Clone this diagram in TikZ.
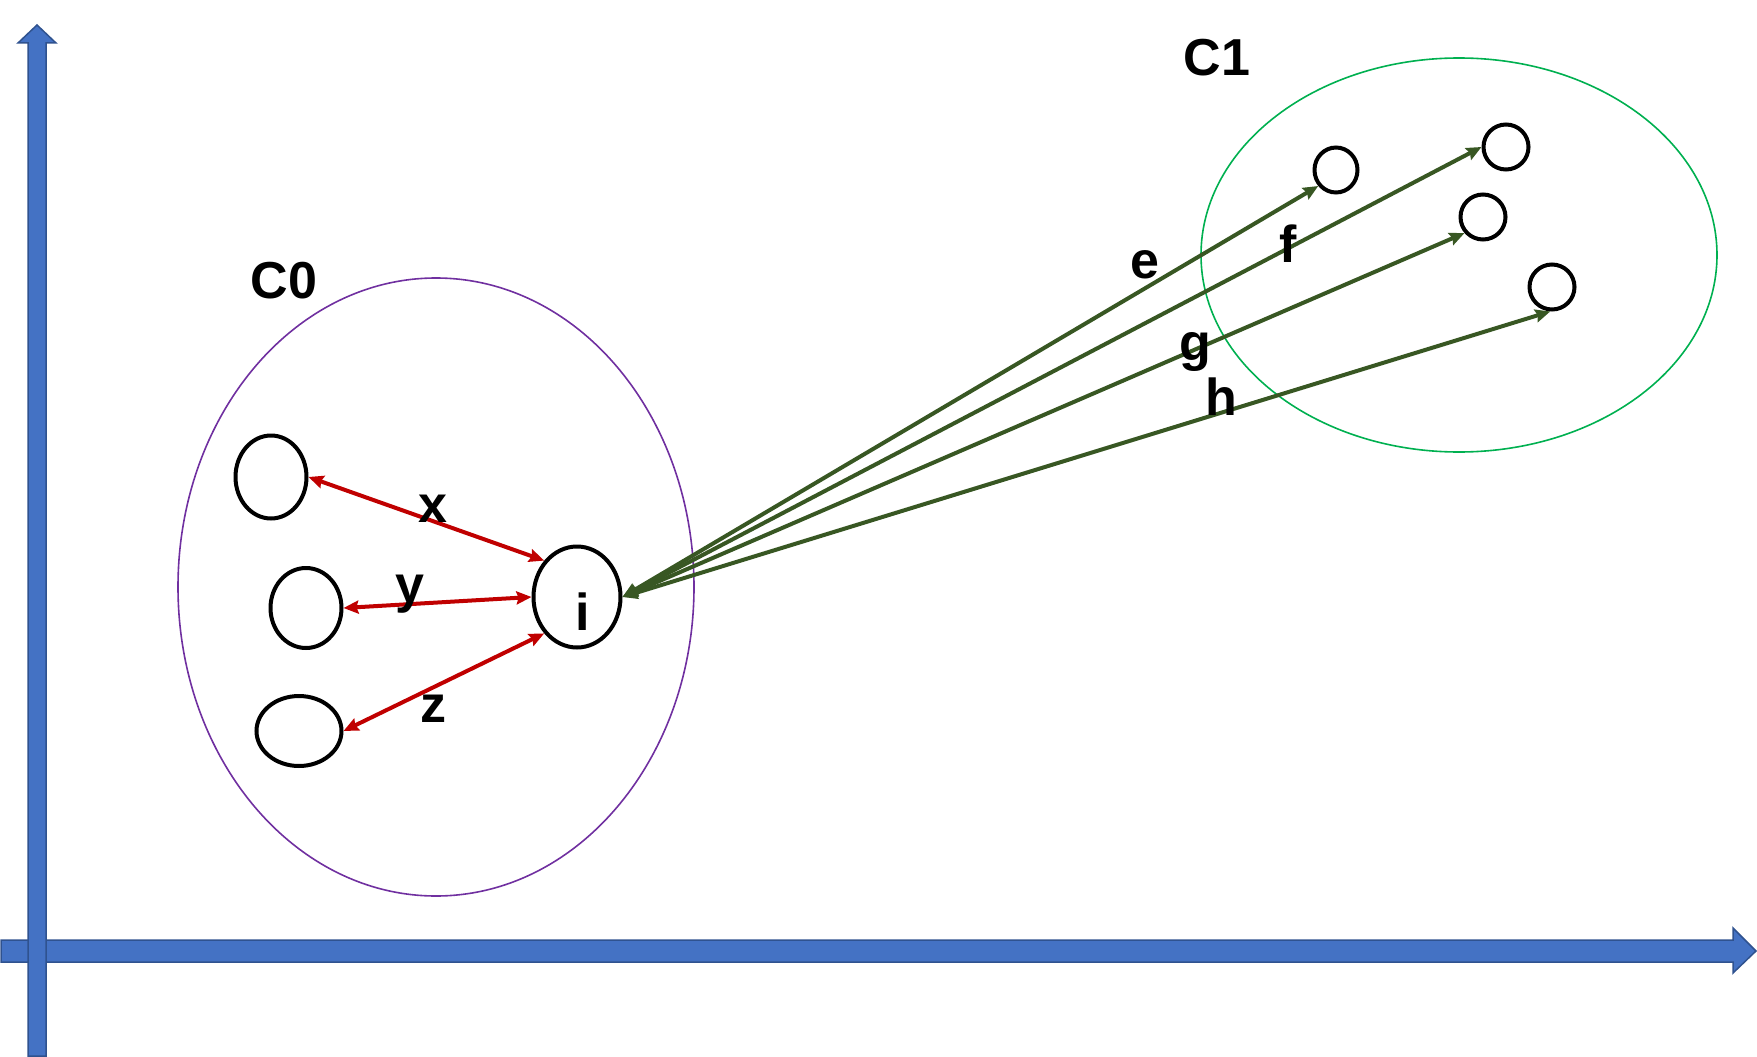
\documentclass[tikz,border=0pt]{standalone}
\usepackage{fontspec}
\setmainfont{Liberation Sans}
\usetikzlibrary{shapes.geometric,arrows.meta}
\definecolor{axisblue}{HTML}{4472C4}
\definecolor{axisedge}{HTML}{2F528F}
\definecolor{redarr}{HTML}{C00000}
\definecolor{greenarr}{HTML}{385723}
\definecolor{purp}{HTML}{7030A0}
\definecolor{grn}{HTML}{00B050}
\begin{document}
\begin{tikzpicture}[x=1pt,y=-1pt,
  axis/.style={fill=axisblue,draw=axisedge,line width=1.5pt,line join=miter},
  pt/.style={ellipse,draw=black,line width=4pt,inner sep=0pt},
  cluster/.style={ellipse,line width=1.6pt,inner sep=0pt},
  lbl/.style={font=\fontsize{52}{64}\selectfont\bfseries,inner sep=0pt,anchor=base},
  redline/.style={draw=redarr,line width=4pt,{Stealth[length=15pt,width=13pt,inset=2pt]}-{Stealth[length=15pt,width=13pt,inset=2pt]}},
  greenline/.style={draw=greenarr,line width=4pt,{Stealth[length=15pt,width=13pt,inset=2pt]}-{Stealth[length=15pt,width=13pt,inset=2pt]}}
]
\useasboundingbox (0,0) rectangle (1757,1057);
% axes
\path[axis] (1,940) -- (1733,940) -- (1733,928) -- (1756,951) -- (1733,973) -- (1733,962) -- (1,962) -- cycle;
\path[axis] (28,1056) -- (28,43) -- (18,43) -- (37,25) -- (56,43) -- (46,43) -- (46,1056) -- cycle;
% clusters
\node[cluster,draw=purp,minimum width=516pt,minimum height=618pt] (c0) at (436,587) {};
\node[cluster,draw=grn,minimum width=516pt,minimum height=394pt] (c1) at (1459,255) {};
\node[lbl] (c0lbl) at (284,298) {C0};
\node[lbl] (c1lbl) at (1217,75) {C1};
% C0 points
\node[pt,minimum width=71pt,minimum height=83pt] (a) at (271,477) {};
\node[pt,minimum width=71pt,minimum height=80pt] (b) at (306,608) {};
\node[pt,minimum width=85pt,minimum height=70pt] (c) at (299,731) {};
\node[pt,minimum width=87pt,minimum height=101pt] (i) at (577,597) {};
\node[lbl] (ilbl) at (583,630) {i};
% C1 points
\node[pt,minimum width=43pt,minimum height=45pt] (e) at (1336,170) {};
\node[pt,minimum width=45pt,minimum height=45pt] (f) at (1506,147) {};
\node[pt,minimum width=45pt,minimum height=45pt] (g) at (1483,217) {};
\node[pt,minimum width=45pt,minimum height=45pt] (h) at (1552,287) {};
% red connectors
\draw[redline] (a.east) -- (i.132);
\draw[redline] (b.east) -- (i.west);
\draw[redline] (c.east) -- (i.228);
\node[lbl] (xl) at (433,522) {x};
\node[lbl] (yl) at (410,602) {y};
\node[lbl] (zl) at (433,722) {z};
% green connectors
\draw[greenline] (i.east) -- (e.222);
\draw[greenline] (i.east) -- (f.west);
\draw[greenline] (i.east) -- (g.221);
\draw[greenline] (i.east) -- (h.266);
\node[lbl] (el) at (1145,278) {e};
\node[lbl] (fl) at (1288,262) {f};
\node[lbl] (gl) at (1195,360) {g};
\node[lbl] (hl) at (1221,415) {h};
\end{tikzpicture}
\end{document}
